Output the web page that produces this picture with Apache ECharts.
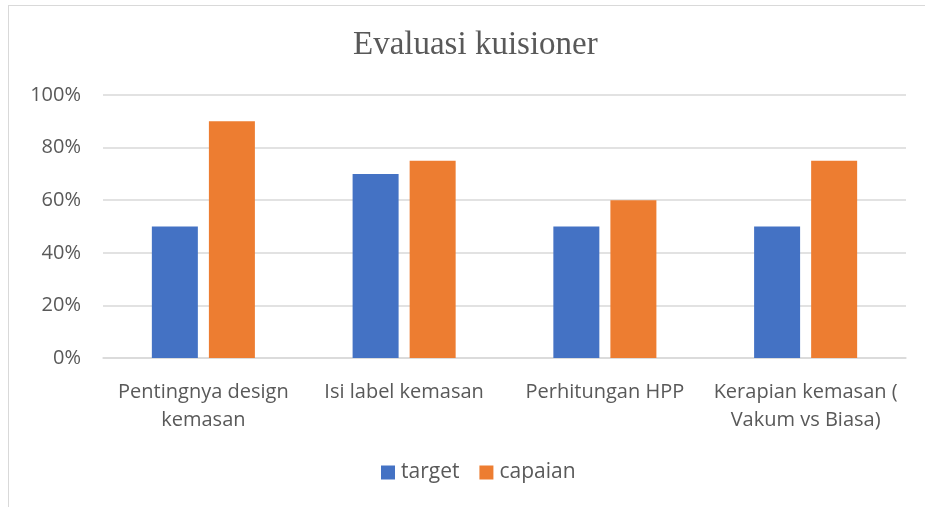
<!DOCTYPE html>
<html>
<head>
<meta charset="utf-8">
<script src="https://cdn.jsdelivr.net/npm/echarts@6/dist/echarts.min.js"></script>
<style>
html, body { margin: 0; padding: 0; background: #fff; overflow: hidden; }
#frame { position: absolute; left: 8px; top: 5px; width: 940px; height: 520px; border-left: 1px solid #d9d9d9; border-top: 1px solid #d9d9d9; }
#chart { position: absolute; left: 0; top: 0; width: 925px; height: 507px; }
</style>
</head>
<body>
<div id="frame"></div>
<div id="chart"></div>
<script>
var categories = ['Pentingnya design\nkemasan', 'Isi label kemasan', 'Perhitungan HPP', 'Kerapian kemasan (\nVakum vs Biasa)'];
var target = [50, 70, 50, 50];
var capaian = [90, 75, 60, 75];

var myChart = echarts.init(document.getElementById('chart'));
var option = {
	animation: false,
	title: {
		text: 'Evaluasi kuisioner',
		left: 348,
		top: 24,
		textStyle: {
			fontFamily: 'Liberation Serif',
			fontWeight: 'normal',
			fontSize: 33,
			color: '#595959'
		}
	},
	legend: {
		bottom: 19,
		left: 376,
		itemWidth: 14,
		itemHeight: 14,
		itemGap: 20,
		icon: 'rect',
		textStyle: {
			fontFamily: 'Open Sans',
			fontSize: 21,
			color: '#595959',
			padding: [0, 0, 0, 1]
		},
		data: ['target', 'capaian']
	},
	grid: {
		left: 103,
		right: 19,
		top: 95,
		bottom: 149
	},
	xAxis: {
		type: 'category',
		data: categories,
		axisTick: { show: false },
		axisLine: { lineStyle: { color: '#d9d9d9', width: 1.5 } },
		axisLabel: {
			interval: 0,
			fontFamily: 'Open Sans',
			fontSize: 20,
			color: '#595959',
			lineHeight: 28,
			margin: 20
		}
	},
	yAxis: {
		type: 'value',
		min: 0,
		max: 100,
		interval: 20,
		axisLabel: {
			fontFamily: 'Open Sans',
			fontSize: 20,
			color: '#595959',
			margin: 22,
			formatter: '{value}%'
		},
		splitLine: { lineStyle: { color: '#d9d9d9', width: 1.5 } }
	},
	series: [{
		name: 'target',
		type: 'bar',
		barWidth: 46,
		barGap: '24%',
		itemStyle: { color: '#4472c4' },
		data: target
	}, {
		name: 'capaian',
		type: 'bar',
		barWidth: 46,
		itemStyle: { color: '#ed7d31' },
		data: capaian
	}]
};
myChart.setOption(option);
</script>
</body>
</html>
